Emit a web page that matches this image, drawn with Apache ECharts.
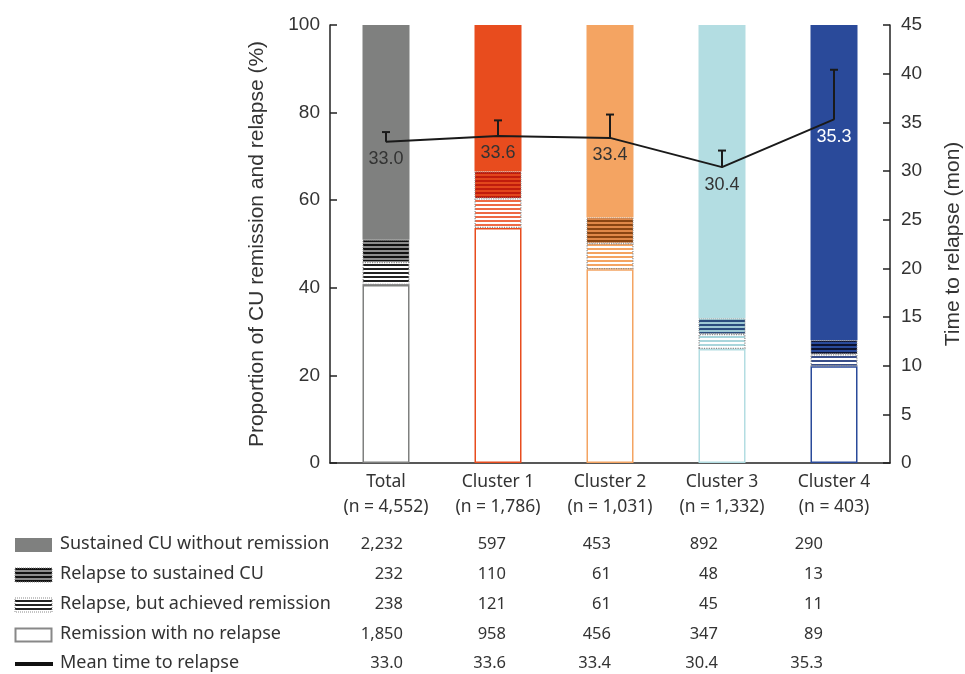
<!DOCTYPE html>
<html>
<head>
<meta charset="utf-8">
<style>
  html, body { margin: 0; padding: 0; background: #fff; }
  #main { width: 965px; height: 674px; }
</style>
<script src="https://cdn.jsdelivr.net/npm/echarts@6/dist/echarts.min.js"></script>
</head>
<body>
<div id="main"></div>
<script>
// data
const categories = ['Total', 'Cluster 1', 'Cluster 2', 'Cluster 3', 'Cluster 4']
const groupN = ['4,552', '1,786', '1,031', '1,332', '403']
const sustained = [2232, 597, 453, 892, 290]
const relapseSustained = [232, 110, 61, 48, 13]
const relapseRemission = [238, 121, 61, 45, 11]
const remission = [1850, 958, 456, 347, 89]
const meanTime = [33.0, 33.6, 33.4, 30.4, 35.3]
const meanUpper = [34.0, 35.2, 35.8, 32.1, 40.4]

const rowNames = ['Sustained CU without remission', 'Relapse to sustained CU', 'Relapse, but achieved remission', 'Remission with no relapse', 'Mean time to relapse']

// colours per group
const mainColor = ['#7f807f', '#e84c1e', '#f4a462', '#b3dde2', '#2a4a9a']
const darkBg = ['#8c8c8c', '#e2461c', '#e08848', '#9ec9d4', '#2a4a9a']
const darkLine = ['#111111', '#c01c0c', '#8a4512', '#2b4c7e', '#0c1230']
const lightLine = ['#222222', '#ee6a45', '#f4a462', '#a9d6dc', '#3a4f8a']

const totals = sustained.map((v, i) => v + relapseSustained[i] + relapseRemission[i] + remission[i])
const pct = arr => arr.map((v, i) => v / totals[i] * 100)

function stripes(bg, fg, on, off) {
  const c = document.createElement('canvas')
  c.width = 4
  c.height = on + off
  const ctx = c.getContext('2d')
  ctx.fillStyle = bg
  ctx.fillRect(0, 0, 4, on + off)
  ctx.fillStyle = fg
  ctx.fillRect(0, 0, 4, on)
  return { image: c, repeat: 'repeat' }
}

const chart = echarts.init(document.getElementById('main'))

const axisFont = 'Liberation Sans'
const textFont = 'Noto Sans'

const sustainedData = pct(sustained).map((v, i) => ({ value: v, itemStyle: { color: mainColor[i] } }))
const relSusData = pct(relapseSustained).map((v, i) => ({
  value: v,
  itemStyle: { color: stripes(darkBg[i], darkLine[i], 2, 2), borderColor: '#8a8a8a', borderType: 'dotted', borderWidth: 1 }
}))
const relRemData = pct(relapseRemission).map((v, i) => ({
  value: v,
  itemStyle: { color: stripes('#ffffff', lightLine[i], 2, 2), borderColor: '#8a8a8a', borderType: 'dotted', borderWidth: 1.2 }
}))
const remData = pct(remission).map((v, i) => ({
  value: v,
  itemStyle: { color: '#ffffff', borderColor: mainColor[i], borderWidth: 1.5 }
}))

// table under the chart
const rowY = [545, 575, 605, 635, 664]
const colRight = [403, 506, 611, 718, 823]
const rowValues = [sustained, relapseSustained, relapseRemission, remission, meanTime]
const graphics = []
rowNames.forEach((name, r) => {
  graphics.push({
    type: 'text', left: 60, top: rowY[r] - 10,
    style: { text: name, font: '18px "' + textFont + '"', fill: '#333' }
  })
  rowValues[r].forEach((v, c) => {
    graphics.push({
      type: 'text', x: colRight[c], y: rowY[r] - 9,
      style: {
        text: r === 4 ? v.toFixed(1) : v.toLocaleString('en-US'),
        font: '16.5px "' + textFont + '"', fill: '#333', align: 'right'
      }
    })
  })
})
graphics.push(
  { type: 'rect', shape: { x: 15, y: rowY[0] - 7, width: 37, height: 14 }, style: { fill: mainColor[0] } },
  { type: 'rect', shape: { x: 15, y: rowY[1] - 7, width: 37, height: 14 },
    style: { fill: stripes('#8c8c8c', '#111', 2, 2), stroke: '#8a8a8a', lineWidth: 1, lineDash: [1, 1] } },
  { type: 'rect', shape: { x: 15, y: rowY[2] - 7, width: 37, height: 14 },
    style: { fill: stripes('#fff', '#222', 2, 2), stroke: '#8a8a8a', lineWidth: 1, lineDash: [1, 1] } },
  { type: 'rect', shape: { x: 15.5, y: rowY[3] - 6.5, width: 36, height: 13 },
    style: { fill: '#fff', stroke: '#888', lineWidth: 2 } },
  { type: 'rect', shape: { x: 15, y: rowY[4] - 2, width: 38, height: 4 }, style: { fill: '#111' } }
)

const option = {
  animation: false,
  grid: { left: 330, right: 75, top: 25, bottom: 211, outerBoundsMode: 'none', containLabel: false },
  xAxis: {
    type: 'category',
    data: categories.map((c, i) => c + '\n(n = ' + groupN[i] + ')'),
    axisLine: { lineStyle: { color: '#222', width: 1.5 } },
    axisTick: { inside: true, length: 7, lineStyle: { color: '#222', width: 1.5 } },
    axisLabel: { interval: 0, fontFamily: textFont, fontSize: 17.5, color: '#333', lineHeight: 25, margin: 7 }
  },
  yAxis: [
    {
      type: 'value', min: 0, max: 100, interval: 20,
      name: 'Proportion of CU remission and relapse (%)',
      nameLocation: 'middle', nameGap: 62,
      nameTextStyle: { fontFamily: axisFont, fontSize: 21, color: '#333' },
      splitLine: { show: false },
      axisLine: { show: true, lineStyle: { color: '#222', width: 1.5 } },
      axisTick: { show: true, inside: true, length: 7, lineStyle: { color: '#222', width: 1.5 } },
      axisLabel: { fontFamily: axisFont, fontSize: 19, color: '#333', margin: 10 }
    },
    {
      type: 'value', min: 0, max: 45, interval: 5,
      name: 'Time to relapse (mon)',
      nameLocation: 'middle', nameGap: 53, nameRotate: 90,
      nameTextStyle: { fontFamily: axisFont, fontSize: 21, color: '#333' },
      splitLine: { show: false },
      axisLine: { show: true, lineStyle: { color: '#222', width: 1.5 } },
      axisTick: { show: true, inside: true, length: 7, lineStyle: { color: '#222', width: 1.5 } },
      axisLabel: { fontFamily: axisFont, fontSize: 19, color: '#333', margin: 11 }
    }
  ],
  series: [
    { name: rowNames[3], type: 'bar', stack: 'p', barWidth: 47, data: remData },
    { name: rowNames[2], type: 'bar', stack: 'p', barWidth: 47, data: relRemData },
    { name: rowNames[1], type: 'bar', stack: 'p', barWidth: 47, data: relSusData },
    { name: rowNames[0], type: 'bar', stack: 'p', barWidth: 47, data: sustainedData },
    {
      name: rowNames[4], type: 'line', yAxisIndex: 1, z: 5,
      data: meanTime.map((v, i) => ({
        value: v,
        label: { color: i === 4 ? '#fff' : '#333' }
      })),
      symbol: 'circle', symbolSize: 1,
      itemStyle: { color: '#1a1a1a' },
      lineStyle: { color: '#1a1a1a', width: 2 },
      label: {
        show: true, position: 'bottom', distance: 8,
        fontFamily: axisFont, fontSize: 18,
        formatter: p => p.value.toFixed(1)
      }
    },
    {
      name: 'upper', type: 'custom', yAxisIndex: 1, z: 6,
      data: meanTime.map((v, i) => [i, v, meanUpper[i]]),
      renderItem: (params, api) => {
        const base = api.coord([api.value(0), api.value(1)])
        const top = api.coord([api.value(0), api.value(2)])
        const st = { stroke: '#1a1a1a', lineWidth: 2 }
        return {
          type: 'group',
          children: [
            { type: 'line', shape: { x1: base[0], y1: base[1], x2: top[0], y2: top[1] }, style: st },
            { type: 'line', shape: { x1: top[0] - 4, y1: top[1], x2: top[0] + 4, y2: top[1] }, style: st }
          ]
        }
      }
    }
  ],
  graphic: graphics
}

option && chart.setOption(option)
</script>
</body>
</html>
